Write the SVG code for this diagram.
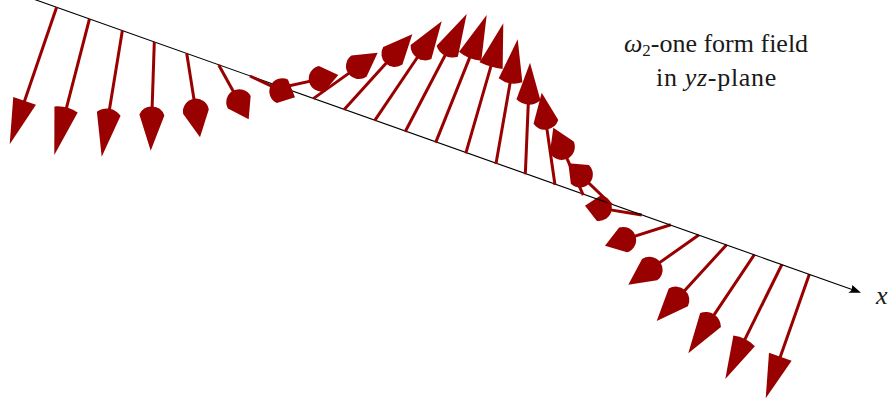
<svg xmlns="http://www.w3.org/2000/svg" width="890" height="405" viewBox="0 0 890 405">
<style>
.s{fill:none;stroke:#990000;stroke-width:3}
.h{fill:#990000}
.axis{fill:none;stroke:#000;stroke-width:1.1}
text{font-family:"Liberation Serif","Times New Roman",serif;font-size:26px;fill:#1a1a1a}
.i{font-style:italic}
</style>
<rect width="890" height="405" fill="#fff"/>
<g id="arrows-right">
<g transform="translate(585 205.7) rotate(-170.7)"><path class="s" d="M-57.5 0H-15"/><path class="h" d="M0 0L-14 13A13 13 0 0 1 -14 -13Z"/></g>
<g transform="translate(605 245.7) rotate(162.3)"><path class="s" d="M-69 0H-20"/><path class="h" d="M0 0L-19 13A13 13 0 0 1 -19 -13Z"/></g>
<g transform="translate(628.3 284.7) rotate(144.8)"><path class="s" d="M-86.2 0H-27"/><path class="h" d="M0 0L-26 13A13 13 0 0 1 -26 -13Z"/></g>
<g transform="translate(656.7 321) rotate(132.5)"><path class="s" d="M-103.5 0H-33"/><path class="h" d="M0 0L-32 13A13.5 13.5 0 0 1 -32 -13Z"/></g>
<g transform="translate(688.3 353.3) rotate(123.8)"><path class="s" d="M-118.7 0H-40"/><path class="h" d="M0 0L-40 12.5A15 15 0 0 1 -40 -12.5Z"/></g>
<g transform="translate(725.3 379) rotate(116.3)"><path class="s" d="M-128 0H-42"/><path class="h" d="M0 0L-42.5 12A37 37 0 0 1 -42.5 -12Z"/></g>
<g transform="translate(765.7 398.3) rotate(109.4)"><path class="s" d="M-131.4 0H-43"/><path class="h" d="M0 0L-44 12V-12Z"/></g>
</g>
<g id="x-axis">
<path class="axis" d="M33 -1.1L852 289.5"/>
<path fill="#000" d="M861 292.8L848.3 292.7Q851.5 290.5 851.7 289.7Q852 287.5 852.3 285Z"/>
</g>
<g id="arrows-left">
<g transform="translate(9.7 144.3) rotate(108.9)"><path class="s" d="M-144.8 0H-45"/><path class="h" d="M0 0L-46 12V-12Z"/></g>
<g transform="translate(54.3 155) rotate(104.5)"><path class="s" d="M-140.5 0H-46"/><path class="h" d="M0 0L-47 12A37 37 0 0 1 -47 -12Z"/></g>
<g transform="translate(101.7 156.7) rotate(99.3)"><path class="s" d="M-127.7 0H-43"/><path class="h" d="M0 0L-43.5 12A16.9 16.9 0 0 1 -43.5 -12Z"/></g>
<g transform="translate(150.7 150.7) rotate(91.9)"><path class="s" d="M-108.8 0H-35"/><path class="h" d="M0 0L-35.7 12.5A13.5 13.5 0 0 1 -35.7 -12.5Z"/></g>
<g transform="translate(200 137.3) rotate(81)"><path class="s" d="M-85 0H-27"/><path class="h" d="M0 0L-26 13A13 13 0 0 1 -26 -13Z"/></g>
<g transform="translate(248.7 119.3) rotate(61.1)"><path class="s" d="M-62 0H-20"/><path class="h" d="M0 0L-19.5 13A13 13 0 0 1 -19.5 -13Z"/></g>
<g transform="translate(295 97.3) rotate(25.3)"><path class="s" d="M-49.8 0H-15"/><path class="h" d="M0 0L-14 13A13 13 0 0 1 -14 -13Z"/></g>
<g transform="translate(338.3 75) rotate(-12.4)"><path class="s" d="M-58.2 0H-18"/><path class="h" d="M0 0L-17 13A13 13 0 0 1 -17 -13Z"/></g>
<g transform="translate(377.7 52.7) rotate(-35.5)"><path class="s" d="M-79.1 0H-24"/><path class="h" d="M0 0L-23 13A13 13 0 0 1 -23 -13Z"/></g>
<g transform="translate(412.3 34.3) rotate(-47.8)"><path class="s" d="M-101.7 0H-30"/><path class="h" d="M0 0L-29 13A13.3 13.3 0 0 1 -29 -13Z"/></g>
<g transform="translate(441.7 21.3) rotate(-56)"><path class="s" d="M-119.9 0H-37"/><path class="h" d="M0 0L-37 12.5A14.5 14.5 0 0 1 -37 -12.5Z"/></g>
<g transform="translate(466.7 14) rotate(-62.4)"><path class="s" d="M-132.8 0H-42"/><path class="h" d="M0 0L-42 12A16.9 16.9 0 0 1 -42 -12Z"/></g>
<g transform="translate(486.7 15) rotate(-68.2)"><path class="s" d="M-137.5 0H-44"/><path class="h" d="M0 0L-44.5 12A37 37 0 0 1 -44.5 -12Z"/></g>
<g transform="translate(503.3 23.3) rotate(-73.9)"><path class="s" d="M-135.3 0H-44"/><path class="h" d="M0 0L-44 12A72.5 72.5 0 0 1 -44 -12Z"/></g>
<g transform="translate(517.7 39.3) rotate(-80.1)"><path class="s" d="M-126.6 0H-41"/><path class="h" d="M0 0L-41.6 12A25.5 25.5 0 0 1 -41.6 -12Z"/></g>
<g transform="translate(530 62.7) rotate(-87.6)"><path class="s" d="M-111.7 0H-37"/><path class="h" d="M0 0L-37 12A16.9 16.9 0 0 1 -37 -12Z"/></g>
<g transform="translate(541.7 92.7) rotate(-98.2)"><path class="s" d="M-93 0H-30"/><path class="h" d="M0 0L-29.5 12.5A14 14 0 0 1 -29.5 -12.5Z"/></g>
<g transform="translate(553.3 127.7) rotate(-114)"><path class="s" d="M-73.7 0H-22"/><path class="h" d="M0 0L-21 13A13 13 0 0 1 -21 -13Z"/></g>
<g transform="translate(568.3 163.3) rotate(-136.1)"><path class="s" d="M-60.2 0H-17"/><path class="h" d="M0 0L-16 13A13 13 0 0 1 -16 -13Z"/></g>
</g>
<g id="labels">
<text x="716" y="52" text-anchor="middle"><tspan class="i">ω</tspan><tspan font-size="17" dy="4">2</tspan><tspan dy="-4">-one form field</tspan></text>
<text x="716.5" y="86" text-anchor="middle" letter-spacing="0.7">in <tspan class="i">yz</tspan>-plane</text>
<text class="i" x="876" y="304">x</text>
</g>
</svg>
